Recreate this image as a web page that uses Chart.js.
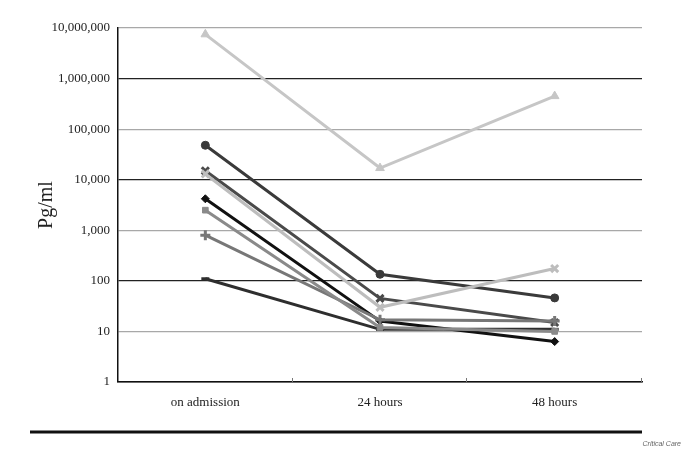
<!DOCTYPE html>
<html>
<head>
<meta charset="utf-8">
<script src="https://cdn.jsdelivr.net/npm/chart.js@4"></script>
<style>
  html, body { margin: 0; padding: 0; background: #ffffff; }
  #wrap { width: 685px; height: 449px; position: relative; }
</style>
</head>
<body>
<div id="wrap"><canvas id="cytokineChart"></canvas></div>
<script>
// categories and values
const timepoints = ['on admission', '24 hours', '48 hours'];
const yTickValues = [1, 10, 100, 1000, 10000, 100000, 1000000, 10000000];

const circleSeries   = [48000, 135, 46];
const darkXSeries    = [15000, 45, 15];
const lightXSeries   = [13000, 30, 175];
const triangleSeries = [7500000, 17000, 450000];
const diamondSeries  = [4200, 16, 6.3];
const squareSeries   = [2500, 12, 10];
const plusSeries     = [800, 17, 16];
const dashSeries     = [110, 11, 11];

function makeSet(data, color, style, radius, bw) {
    return {
        data: data,
        borderColor: color,
        backgroundColor: color,
        borderWidth: 3,
        pointStyle: style,
        pointRadius: radius,
        pointBorderWidth: bw,
        pointBackgroundColor: color,
        pointBorderColor: color,
        tension: 0
    };
}

// extras: upward x ticks, bottom rule and the journal tag
const decorPlugin = {
    id: 'decor',
    afterDraw(chart) {
        const ctx = chart.ctx;
        const area = chart.chartArea;
        const step = (area.right - area.left) / timepoints.length;
        ctx.save();
        ctx.strokeStyle = '#777';
        ctx.lineWidth = 1;
        for (let i = 1; i <= timepoints.length; i++) {
            const px = Math.round(area.left + step * i) - 0.5;
            ctx.beginPath();
            ctx.moveTo(px, area.bottom);
            ctx.lineTo(px, area.bottom - 4);
            ctx.stroke();
        }
        ctx.strokeStyle = '#111';
        ctx.lineWidth = 3;
        ctx.beginPath();
        ctx.moveTo(30, 432);
        ctx.lineTo(area.right, 432);
        ctx.stroke();
        ctx.fillStyle = '#666';
        ctx.font = 'italic 7px "Liberation Sans", Arial, sans-serif';
        ctx.textAlign = 'right';
        ctx.textBaseline = 'middle';
        ctx.fillText('Critical Care', 681, 444);
        ctx.restore();
    }
};

new Chart(document.getElementById('cytokineChart').getContext('2d'), {
    type: 'line',
    data: {
        labels: timepoints,
        datasets: [
            makeSet(triangleSeries, '#c6c6c6', 'triangle', 5, 1),
            makeSet(lightXSeries, '#bdbdbd', 'crossRot', 5, 3),
            makeSet(squareSeries, '#8a8a8a', 'rect', 4, 1),
            makeSet(plusSeries, '#777777', 'cross', 5, 3),
            makeSet(darkXSeries, '#4a4a4a', 'crossRot', 5, 3),
            makeSet(dashSeries, '#2e2e2e', 'line', 4, 3),
            makeSet(circleSeries, '#3a3a3a', 'circle', 4, 1),
            makeSet(diamondSeries, '#111111', 'rectRot', 4, 1)
        ]
    },
    options: {
        responsive: true,
        maintainAspectRatio: false,
        animation: false,
        layout: { padding: { top: 28, right: 43, bottom: 0, left: 0 } },
        plugins: {
            legend: { display: false },
            tooltip: { enabled: false }
        },
        scales: {
            x: {
                offset: true,
                grid: { display: false },
                border: { display: true, color: '#111', width: 1.5 },
                ticks: {
                    color: '#222',
                    padding: 5,
                    font: { family: '"Liberation Serif", "Times New Roman", serif', size: 13 }
                },
                afterFit: function (scale) { scale.height = 67; }
            },
            y: {
                type: 'logarithmic',
                min: 1,
                max: 10000000,
                afterBuildTicks: function (scale) {
                    scale.ticks = yTickValues.map(v => ({ value: v }));
                },
                afterFit: function (scale) { scale.width = 118; },
                grid: {
                    drawTicks: false,
                    lineWidth: 1.2,
                    color: function (c) {
                        return c.index % 2 === 1 ? '#a8a8a8' : '#222222';
                    }
                },
                border: { display: true, color: '#111', width: 1.5 },
                ticks: {
                    color: '#222',
                    padding: 8,
                    font: { family: '"Liberation Serif", "Times New Roman", serif', size: 13 },
                    callback: function (value) {
                        return Number(value).toLocaleString('en-US');
                    }
                },
                title: {
                    display: true,
                    text: 'Pg/ml',
                    color: '#222',
                    padding: { top: 35, bottom: 0 },
                    font: { family: '"Liberation Serif", "Times New Roman", serif', size: 20 }
                }
            }
        }
    },
    plugins: [decorPlugin]
});
</script>
</body>
</html>
